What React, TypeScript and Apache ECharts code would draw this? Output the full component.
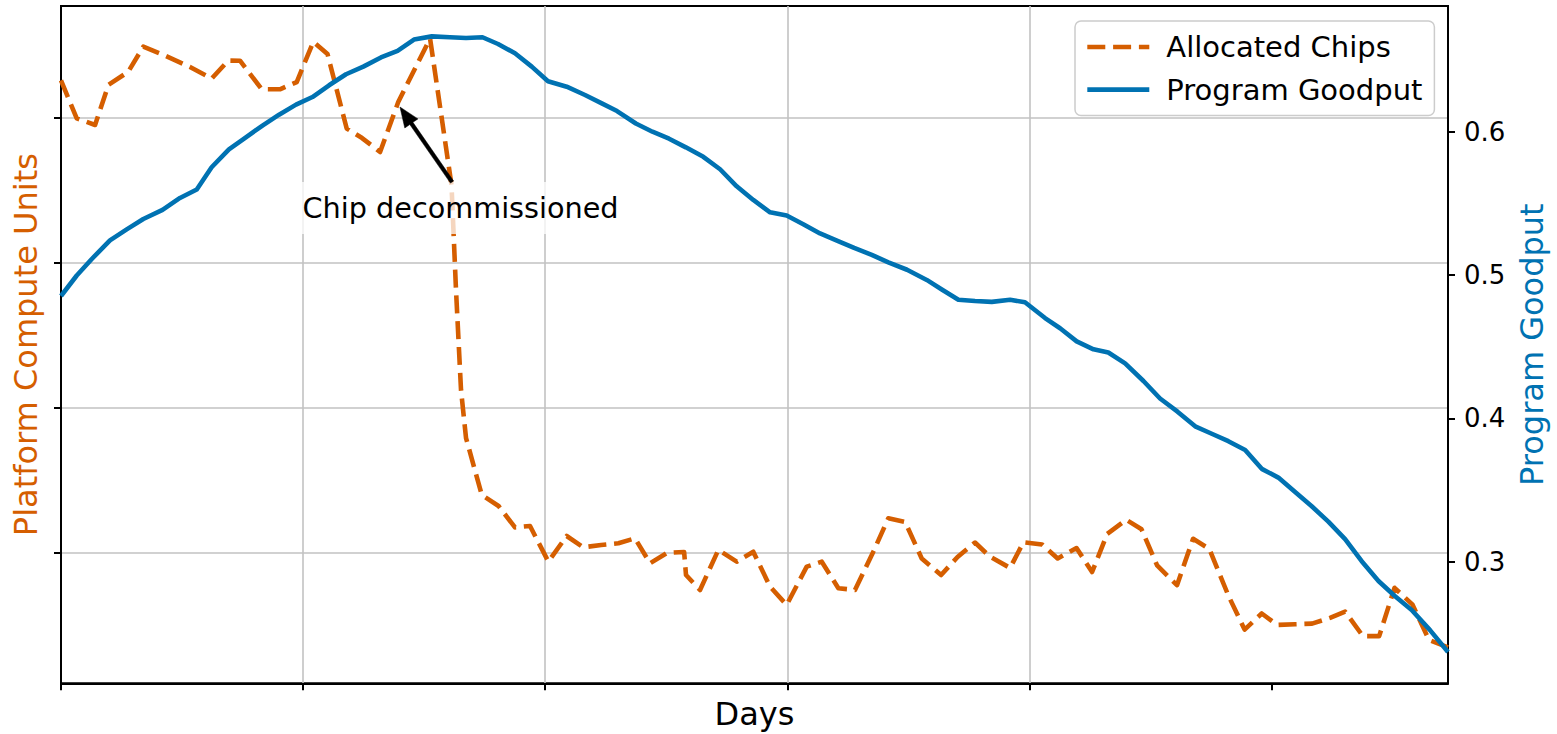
import React, { useEffect, useRef } from "react";
import * as echarts from "echarts";

const FONT = "DejaVu Sans";
const ORANGE = "#D55E00";
const BLUE = "#0072B2";

// Allocated chips (left axis, platform compute units) — x in days
const chipDays = [
  0, 0.91, 1.97, 2.74, 3.89, 4.76, 6.01, 7.46, 8.71, 9.67, 10.35, 11.61, 12.66, 13.63, 14.59, 15.41,
  16.52, 17.41, 18.45, 19.5, 21.34, 22.58, 22.84, 23.13, 23.42, 24.33, 25.3, 26.25, 27.12, 28.18,
  29.24, 30.2, 31.23, 32.23, 33.19, 34.06, 35.03, 36.03, 36.14, 36.95, 38.01, 39.07, 40.03, 41.0,
  41.96, 43.12, 43.99, 44.95, 45.91, 46.97, 47.84, 48.81, 49.77, 50.89, 51.84, 52.85, 53.72, 54.88,
  55.65, 56.73, 57.63, 58.72, 59.62, 60.49, 61.59, 62.48, 63.38, 64.53, 65.46, 66.4, 67.51, 68.44,
  69.43, 70.32, 71.36, 72.34, 73.38, 74.25, 75.28, 76.22, 77.11, 78.15, 79.1, 80.2,
];
const chipUnits = [
  4.254, 3.993, 3.947, 4.223, 4.314, 4.487, 4.426, 4.347, 4.267, 4.391, 4.39, 4.193, 4.193, 4.243,
  4.521, 4.436, 3.923, 3.857, 3.761, 4.105, 4.543, 3.534, 2.81, 2.121, 1.79, 1.398, 1.322, 1.174,
  1.184, 0.938, 1.115, 1.037, 1.053, 1.065, 1.099, 0.927, 0.998, 1.005, 0.846, 0.743, 1.019, 0.938,
  1.007, 0.766, 0.64, 0.904, 0.938, 0.755, 0.743, 1.007, 1.237, 1.212, 0.96, 0.846, 0.97, 1.07,
  0.972, 0.895, 1.072, 1.057, 0.96, 1.032, 0.867, 1.129, 1.227, 1.161, 0.912, 0.776, 1.096, 1.025,
  0.702, 0.47, 0.581, 0.502, 0.507, 0.511, 0.551, 0.594, 0.425, 0.425, 0.758, 0.642, 0.398, 0.348,
];

// Program goodput (right axis)
const goodputDays = [
  0, 0.91, 1.78, 2.83, 3.8, 4.76, 5.87, 6.88, 7.85, 8.71, 9.71, 10.69, 11.65, 12.61, 13.59, 14.54,
  15.5, 16.48, 17.48, 18.5, 19.46, 20.41, 21.44, 22.49, 23.42, 24.37, 25.27, 26.25, 27.22, 28.16,
  29.24, 30.3, 31.27, 32.15, 33.24, 34.2, 35.16, 36.13, 37.14, 38.11, 39.07, 40.03, 41.0, 41.96,
  42.92, 43.89, 44.9, 45.86, 46.88, 47.84, 48.92, 50.06, 50.93, 51.89, 52.85, 53.82, 54.88, 55.74,
  56.9, 57.77, 58.73, 59.7, 60.56, 61.53, 62.59, 63.55, 64.56, 65.58, 66.54, 67.5, 68.47, 69.43,
  70.39, 71.36, 72.32, 73.28, 74.25, 75.21, 76.18, 77.14, 78.1, 79.16, 80.2,
];
const goodputValues = [
  0.4854, 0.4997, 0.5112, 0.5242, 0.5319, 0.5391, 0.5455, 0.5538, 0.5597, 0.5752, 0.5877, 0.5961,
  0.6043, 0.6119, 0.6189, 0.6242, 0.6324, 0.6401, 0.6454, 0.6518, 0.6564, 0.6643, 0.6665, 0.6659,
  0.6654, 0.6659, 0.6612, 0.6547, 0.6454, 0.6352, 0.6314, 0.6256, 0.6198, 0.6144, 0.6057, 0.6,
  0.5951, 0.5891, 0.5825, 0.5738, 0.5619, 0.5524, 0.5438, 0.5415, 0.5355, 0.529, 0.5239, 0.5189,
  0.5141, 0.5089, 0.5037, 0.4966, 0.4899, 0.4828, 0.4819, 0.4813, 0.4828, 0.481, 0.47, 0.4629,
  0.4537, 0.4482, 0.446, 0.4384, 0.4261, 0.4139, 0.4047, 0.3945, 0.3893, 0.3841, 0.378, 0.3648,
  0.3587, 0.3486, 0.3387, 0.328, 0.3158, 0.3004, 0.2866, 0.2759, 0.2663, 0.2523, 0.237,
];

const dayTicks = [0, 14, 28, 42, 56, 70];
const unitTicks = [1, 2, 3, 4];
const goodputTicks = [0.3, 0.4, 0.5, 0.6];
const seriesNames = ["Allocated Chips", "Program Goodput"];

const annotationText = "Chip decommissioned";
const arrowTip = [19.6, 4.071];
const arrowTail = [22.61, 3.554];
const labelAnchor = [13.47, 3.375];

export default function App() {
  const ref = useRef<HTMLDivElement>(null);

  useEffect(() => {
    if (!ref.current) return;
    const chart = echarts.init(ref.current, null, { renderer: "svg" });

    const chipData = chipDays.map((d, i) => [d, chipUnits[i]]);
    const goodData = goodputDays.map((d, i) => [d, goodputValues[i]]);
    const splitLineStyle = { color: "#c2c2c2", width: 1.6 };
    const tickStyle = { color: "#000", width: 2 };
    const axisLineStyle = { color: "#000", width: 2 };

    chart.setOption({
      animation: false,
      backgroundColor: "#ffffff",
      textStyle: { fontFamily: FONT },
      grid: {
        left: 61,
        top: 6,
        width: 1387,
        height: 677.3,
        show: true,
        borderColor: "#000",
        borderWidth: 2,
        backgroundColor: "transparent",
        containLabel: false,
        outerBoundsMode: "none",
      },
      legend: {
        show: true,
        orient: "vertical",
        left: 1075,
        top: 21,
        data: seriesNames,
        selectedMode: false,
        itemWidth: 62,
        itemHeight: 20,
        itemGap: 8.6,
        padding: [9, 12, 9, 10],
        backgroundColor: "rgba(255,255,255,0.8)",
        borderColor: "#cccccc",
        borderWidth: 1.5,
        borderRadius: 6,
        itemStyle: { opacity: 0 },
        lineStyle: { width: 4.6 },
        textStyle: {
          fontSize: 29,
          fontFamily: FONT,
          color: "#000",
          lineHeight: 34,
          padding: [0, 0, 0, 12],
        },
      },
      xAxis: {
        type: "value",
        position: "bottom",
        min: 0,
        max: 80.2,
        interval: 14,
        name: "Days",
        nameLocation: "middle",
        nameGap: 15,
        nameTextStyle: { fontSize: 32, fontFamily: FONT, color: "#000", lineHeight: 32 },
        axisLine: { show: true, onZero: false, lineStyle: axisLineStyle },
        axisTick: { show: true, inside: false, length: 7, lineStyle: tickStyle, customValues: dayTicks },
        axisLabel: { show: false },
        splitLine: { show: true, showMinLine: false, showMaxLine: false, lineStyle: splitLineStyle },
      },
      yAxis: [
        {
          type: "value",
          position: "left",
          min: 0.1,
          max: 4.767,
          minInterval: 1,
          maxInterval: 1,
          name: "Platform Compute Units",
          nameLocation: "middle",
          nameRotate: 90,
          nameGap: 19.4,
          nameTextStyle: { fontSize: 32, fontFamily: FONT, color: ORANGE, lineHeight: 32 },
          axisLine: { show: true, onZero: false, lineStyle: axisLineStyle },
          axisTick: { show: true, inside: false, length: 7, lineStyle: tickStyle, customValues: unitTicks },
          axisLabel: { show: false },
          splitLine: { show: true, lineStyle: splitLineStyle },
        },
        {
          type: "value",
          position: "right",
          min: 0.2152,
          max: 0.6877,
          minInterval: 0.1,
          maxInterval: 0.1,
          name: "Program Goodput",
          nameLocation: "middle",
          nameRotate: 90,
          nameGap: 65,
          nameTextStyle: { fontSize: 32, fontFamily: FONT, color: BLUE, lineHeight: 32 },
          axisLine: { show: true, onZero: false, lineStyle: axisLineStyle },
          axisTick: { show: true, inside: false, length: 7, lineStyle: tickStyle, customValues: goodputTicks },
          axisLabel: {
            show: true,
            fontSize: 26,
            fontFamily: FONT,
            color: "#000",
            margin: 16,
            customValues: goodputTicks,
            formatter: (v: number) => v.toFixed(1),
          },
          splitLine: { show: false },
        },
      ],
      series: [
        {
          name: seriesNames[0],
          type: "line",
          xAxisIndex: 0,
          yAxisIndex: 0,
          data: chipData,
          symbol: "none",
          showSymbol: false,
          z: 2,
          itemStyle: { color: ORANGE },
          lineStyle: { color: ORANGE, width: 4.6, type: [18, 7.8], join: "round", cap: "butt" },
          emphasis: { disabled: true },
        },
        {
          name: seriesNames[1],
          type: "line",
          xAxisIndex: 0,
          yAxisIndex: 1,
          data: goodData,
          symbol: "none",
          showSymbol: false,
          z: 3,
          itemStyle: { color: BLUE },
          lineStyle: { color: BLUE, width: 4.6, join: "round" },
          emphasis: { disabled: true },
        },
      ],
    });

    const finder = { xAxisIndex: 0, yAxisIndex: 0 };
    const tip = chart.convertToPixel(finder, arrowTip) as number[];
    const tail = chart.convertToPixel(finder, arrowTail) as number[];
    const lab = chart.convertToPixel(finder, labelAnchor) as number[];

    const dx = tip[0] - tail[0];
    const dy = tip[1] - tail[1];
    const len = Math.sqrt(dx * dx + dy * dy);
    const ux = dx / len;
    const uy = dy / len;
    const px = -uy;
    const py = ux;
    const headLen = 20;
    const headHalf = 8;
    const shaftHalf = 1.9;
    const bx = tip[0] - ux * headLen;
    const by = tip[1] - uy * headLen;
    const arrowPoints = [
      [tail[0] + px * shaftHalf, tail[1] + py * shaftHalf],
      [bx + px * shaftHalf, by + py * shaftHalf],
      [bx + px * headHalf, by + py * headHalf],
      [tip[0], tip[1]],
      [bx - px * headHalf, by - py * headHalf],
      [bx - px * shaftHalf, by - py * shaftHalf],
      [tail[0] - px * shaftHalf, tail[1] - py * shaftHalf],
    ];

    chart.setOption({
      graphic: [
        {
          type: "text",
          x: lab[0],
          y: lab[1],
          z: 100,
          style: {
            text: annotationText,
            fontSize: 28.7,
            fontFamily: FONT,
            fill: "#000",
            align: "left",
            verticalAlign: "middle",
            lineHeight: 34,
            padding: [9, 8.6, 9, 8.6],
            backgroundColor: "rgba(255,255,255,0.75)",
          },
        },
        {
          type: "polygon",
          z: 101,
          shape: { points: arrowPoints },
          style: { fill: "#000", stroke: "#000", lineWidth: 0.5 },
        },
      ],
    });

    return () => chart.dispose();
  }, []);

  return (
    <div
      ref={ref}
      style={{ position: "absolute", left: 0, top: 0, width: 1557, height: 734 }}
    />
  );
}
